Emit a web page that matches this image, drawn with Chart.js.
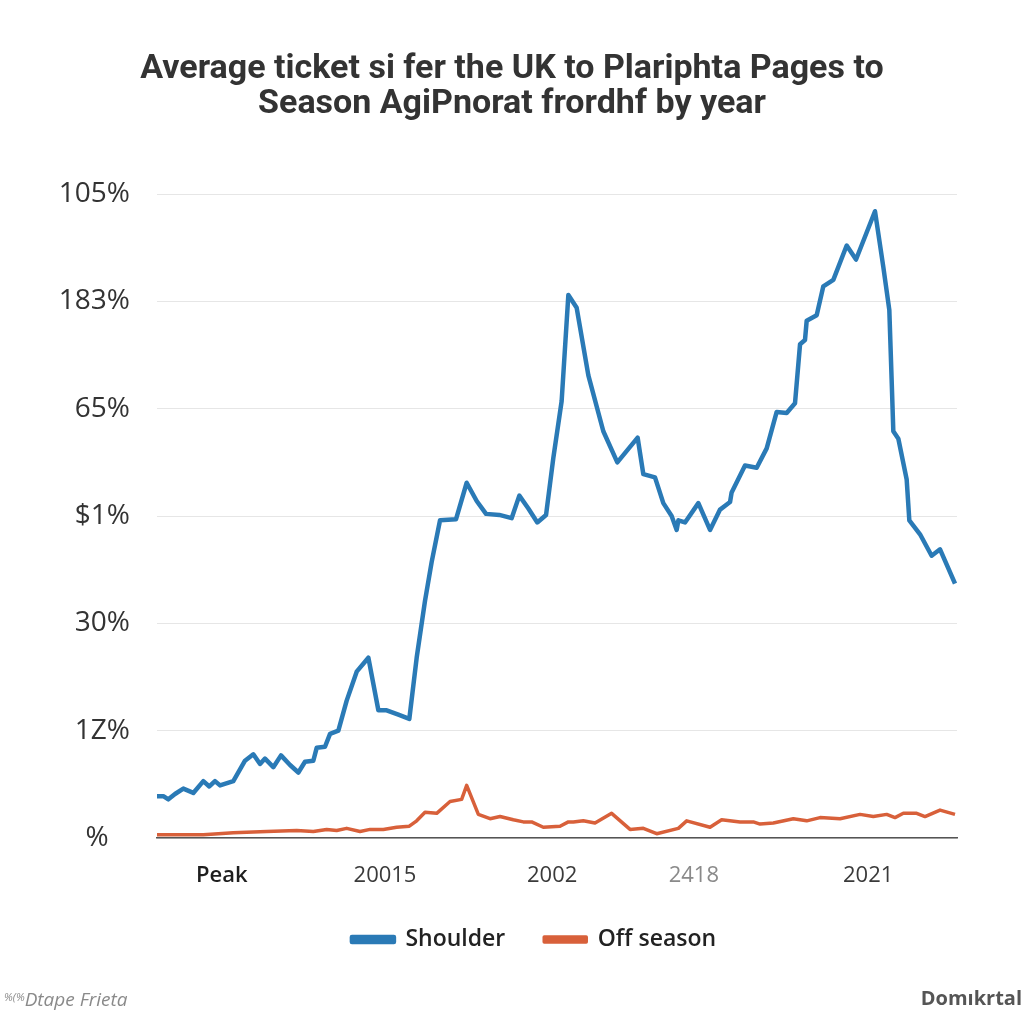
<!DOCTYPE html>
<html>
<head>
<meta charset="utf-8">
<script src="https://cdn.jsdelivr.net/npm/chart.js@4.4.1/dist/chart.umd.min.js"></script>
<style>
  html, body { margin: 0; padding: 0; background: #ffffff; }
  #wrap { position: relative; width: 1024px; height: 1024px; }
  #foot-left { position: absolute; left: 4px; top: 986px; font: italic 19px "Open Sans", sans-serif; color: #8a8a8a; }
  #foot-left span { font-size: 11px; vertical-align: 5px; }
  #foot-right { position: absolute; right: 2px; top: 984px; font: bold 20px "Open Sans", sans-serif; color: #555; }
</style>
</head>
<body>
<div id="wrap">
  <canvas id="c" width="1024" height="1024"></canvas>
  <div id="foot-left"><span>%(%</span>Dtape Frieta</div>
  <div id="foot-right">Domıkrtal</div>
</div>
<script>
const titleLines = ["Average ticket si fer the UK to Plariphta Pages to", "Season AgiPnorat frordhf by year"];
const yTickLabels = ["% \u2002", "1Z%", "30%", "$1%", "65%", "183%", "105%"];
const xTickPositions = [8.1, 28.5, 49.4, 67.1, 88.9];
const xTickLabels = ["Peak", "20015", "2002", "2418", "2021"];

const shoulderX = [0, 0.79, 1.42, 2.25, 3.29, 4.54, 5.79, 6.54, 7.25, 7.88, 9.54, 11.0, 12.04, 12.88, 13.5, 14.54, 15.5, 16.63, 17.67, 18.5, 19.54, 19.96, 21.0, 21.63, 22.67, 23.71, 24.96, 26.42, 27.67, 28.71, 30.17, 31.54, 32.46, 33.5, 34.33, 35.38, 37.38, 38.71, 39.96, 41.13, 42.79, 44.33, 45.29, 46.42, 47.54, 48.63, 49.54, 50.58, 51.42, 52.46, 53.92, 55.79, 57.54, 60.08, 60.79, 62.25, 63.29, 64.33, 64.96, 65.17, 66.0, 67.67, 69.13, 70.38, 71.63, 71.83, 73.5, 74.96, 76.21, 77.46, 78.71, 79.75, 80.38, 81.0, 81.21, 82.46, 83.29, 84.54, 86.21, 87.38, 89.75, 90.79, 91.54, 91.83, 92.04, 92.67, 93.71, 94.04, 95.38, 96.83, 97.88, 99.75];
const shoulderY = [0.39, 0.39, 0.36, 0.41, 0.46, 0.42, 0.53, 0.48, 0.53, 0.49, 0.53, 0.72, 0.78, 0.69, 0.74, 0.66, 0.77, 0.68, 0.61, 0.71, 0.72, 0.84, 0.85, 0.97, 1.0, 1.28, 1.55, 1.68, 1.19, 1.19, 1.15, 1.11, 1.68, 2.21, 2.57, 2.96, 2.97, 3.31, 3.14, 3.02, 3.01, 2.98, 3.19, 3.07, 2.94, 3.01, 3.54, 4.07, 5.06, 4.94, 4.31, 3.79, 3.50, 3.73, 3.39, 3.36, 3.12, 3.0, 2.87, 2.96, 2.94, 3.12, 2.87, 3.06, 3.13, 3.22, 3.47, 3.45, 3.63, 3.97, 3.96, 4.05, 4.60, 4.64, 4.82, 4.87, 5.14, 5.20, 5.52, 5.39, 5.84, 5.32, 4.92, 4.27, 3.79, 3.72, 3.34, 2.96, 2.83, 2.63, 2.69, 2.37];

const offX = [0, 5.79, 9.54, 13.71, 17.46, 19.54, 21.21, 22.46, 23.71, 25.38, 26.63, 28.29, 29.96, 31.54, 32.46, 33.5, 34.96, 36.63, 38.08, 38.71, 40.17, 41.63, 42.88, 44.54, 45.79, 46.83, 48.29, 50.38, 51.42, 52.04, 53.29, 54.75, 56.83, 59.13, 60.79, 62.46, 65.17, 66.21, 69.13, 70.58, 72.88, 74.54, 75.38, 77.04, 79.54, 81.21, 82.88, 85.38, 87.88, 89.54, 91.21, 92.25, 93.29, 94.96, 96.0, 97.88, 99.75];
const offY = [0.03, 0.03, 0.05, 0.06, 0.07, 0.06, 0.08, 0.07, 0.09, 0.06, 0.08, 0.08, 0.10, 0.11, 0.16, 0.24, 0.23, 0.34, 0.36, 0.49, 0.22, 0.18, 0.20, 0.17, 0.15, 0.15, 0.10, 0.11, 0.15, 0.15, 0.16, 0.14, 0.23, 0.08, 0.09, 0.04, 0.09, 0.16, 0.10, 0.17, 0.15, 0.15, 0.13, 0.14, 0.18, 0.16, 0.19, 0.18, 0.22, 0.20, 0.22, 0.19, 0.23, 0.23, 0.20, 0.26, 0.22];

const toPoints = (xs, ys) => xs.map((x, i) => ({ x: x, y: ys[i] }));

const shiftLegend = {
  id: 'shiftLegend',
  afterLayout(chart) {
    const l = chart.legend;
    if (l) { l.left += 22; l.right += 22; }
  }
};

new Chart(document.getElementById('c'), {
  type: 'line',
  plugins: [shiftLegend],
  data: {
    datasets: [
      { label: 'Shoulder', data: toPoints(shoulderX, shoulderY), borderColor: '#2a7ab6', backgroundColor: '#2a7ab6', borderWidth: 4.5, pointRadius: 0, tension: 0, borderJoinStyle: 'round' },
      { label: 'Off season', data: toPoints(offX, offY), borderColor: '#d8603a', backgroundColor: '#d8603a', borderWidth: 3.5, pointRadius: 0, tension: 0, borderJoinStyle: 'round' }
    ]
  },
  options: {
    responsive: false,
    animation: false,
    layout: { padding: { left: 0, right: 0, top: 0, bottom: 63 } },
    plugins: {
      tooltip: { enabled: false },
      title: {
        display: true,
        text: titleLines,
        color: '#333333',
        font: { family: 'Roboto', size: 34, weight: 'bold', lineHeight: 1.03 },
        padding: { top: 52, bottom: 72 }
      },
      legend: {
        position: 'bottom',
        labels: {
          boxWidth: 42, boxHeight: 5, padding: 39,
          color: '#222222',
          font: { family: 'Open Sans', size: 23, weight: '600' }
        }
      }
    },
    scales: {
      x: {
        type: 'linear', min: 0, max: 100,
        afterBuildTicks: (axis) => { axis.ticks = xTickPositions.map(v => ({ value: v })); },
        afterFit: (axis) => { axis.height = 51; },
        grid: { display: false, drawTicks: false },
        border: { display: true, color: '#555555', width: 1.5 },
        ticks: {
          autoSkip: false, maxRotation: 0, padding: 25,
          callback: (v, i) => xTickLabels[i],
          color: (ctx) => ctx.index === 0 ? '#1e1e1e' : (ctx.index === 3 ? '#8a8a8a' : '#3a3a3a'),
          font: (ctx) => ({ family: 'Open Sans', size: 22, weight: ctx.index === 0 ? '600' : '400' })
        }
      },
      y: {
        type: 'linear', min: 0, max: 6,
        afterFit: (axis) => { axis.width = 157; },
        grid: { color: '#e6e6e6', lineWidth: 1, drawTicks: false },
        border: { display: false },
        ticks: {
          stepSize: 1, padding: 27,
          callback: (v) => yTickLabels[v],
          color: '#333333',
          font: { family: 'Open Sans', size: 28, weight: '400' }
        }
      },
      yRight: {
        type: 'linear', position: 'right', display: true,
        afterFit: (axis) => { axis.width = 67; },
        grid: { display: false, drawTicks: false },
        border: { display: false },
        ticks: { display: false }
      }
    }
  }
});
</script>
</body>
</html>
